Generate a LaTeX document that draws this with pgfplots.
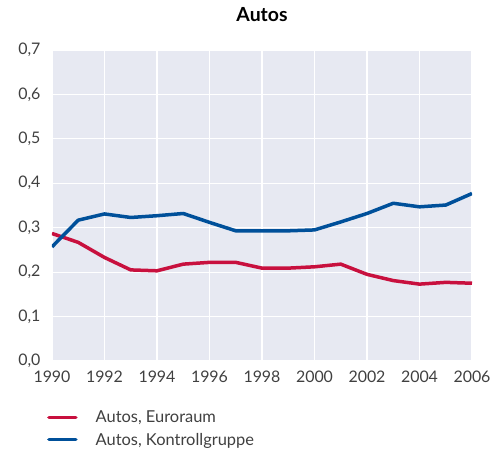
\documentclass[border=0pt]{standalone}
\usepackage{fontspec}
\setmainfont{Lato}
\usepackage{pgfplots}
\pgfplotsset{compat=1.18}
\definecolor{euroRed}{HTML}{C8103E}
\definecolor{ctrlBlue}{HTML}{00509A}
\definecolor{plotBg}{HTML}{E7E9F2}
\definecolor{txt}{HTML}{404040}

\begin{document}
\begin{tikzpicture}
\begin{axis}[
    name=ax,
    scale only axis,
    width=420bp, height=311bp,
    xmin=1990, xmax=2006,
    ymin=0, ymax=0.7,
    xtick={1990,1992,...,2006},
    ytick={0,0.1,...,0.7},
    xticklabel style={/pgf/number format/1000 sep={}, yshift=-6bp},
    yticklabel style={/pgf/number format/fixed, /pgf/number format/fixed zerofill,
        /pgf/number format/precision=1, /pgf/number format/use comma, xshift=-8bp},
    /pgf/number format/assume math mode=true,
    tick label style={font=\fontsize{16}{19}\selectfont, text=txt},
    major tick length=0pt,
    axis line style={draw=none},
    axis background/.style={fill=plotBg},
    grid=major,
    major grid style={white, line width=1.2bp},
    title={\bfseries Autos},
    title style={font=\fontsize{19.5}{22}\selectfont, at={(0.5,1)}, anchor=base, yshift=23bp},
    legend style={at={(-0.012,-0.1526)}, anchor=north west, draw=none, fill=none, inner sep=0pt,
        font=\fontsize{16.5}{19}\selectfont, text=txt, row sep=5bp, column sep=4bp},
    legend cell align=left,
    legend image code/.code={\draw[#1, line width=3.5bp, line cap=round] (1bp,0bp) -- (28bp,0bp);
        \path (40bp,0bp);},
    every axis plot/.append style={line width=3.5bp, line join=round},
]
\addplot[euroRed, no markers] coordinates {
    (1990,0.287)(1991,0.267)(1992,0.233)(1993,0.205)(1994,0.203)(1995,0.218)
    (1996,0.222)(1997,0.222)(1998,0.209)(1999,0.209)(2000,0.212)(2001,0.218)
    (2002,0.195)(2003,0.181)(2004,0.173)(2005,0.177)(2006,0.175)
};
\addlegendentry{Autos, Euroraum}
\addplot[ctrlBlue, no markers] coordinates {
    (1990,0.257)(1991,0.317)(1992,0.331)(1993,0.323)(1994,0.327)(1995,0.332)
    (1996,0.312)(1997,0.293)(1998,0.293)(1999,0.293)(2000,0.295)(2001,0.313)
    (2002,0.332)(2003,0.355)(2004,0.347)(2005,0.351)(2006,0.377)
};
\addlegendentry{Autos, Kontrollgruppe}
\end{axis}
\pgfresetboundingbox
\path[use as bounding box] ([shift={(-52bp,-91bp)}]ax.south west) rectangle ([shift={(31bp,50bp)}]ax.north east);
\end{tikzpicture}
\end{document}
